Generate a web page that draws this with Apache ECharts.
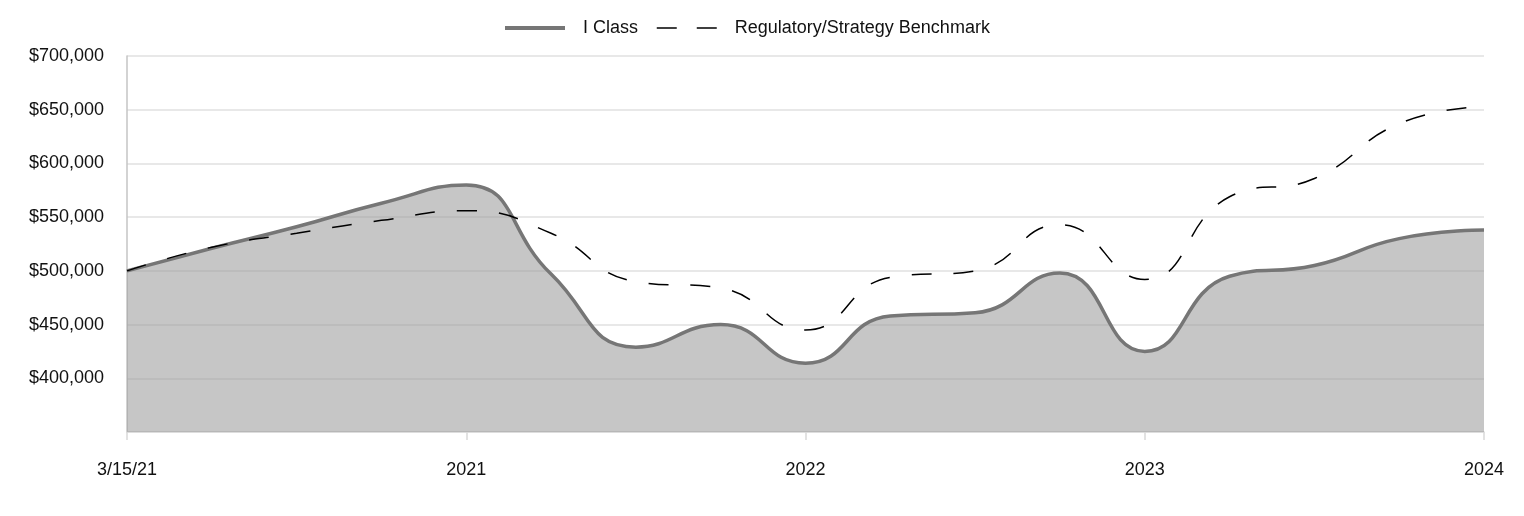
<!DOCTYPE html>
<html>
<head>
<meta charset="utf-8">
<script src="https://cdn.jsdelivr.net/npm/echarts@6/dist/echarts.min.js"></script>
<style>
html,body{margin:0;padding:0;background:#fff;}
#chart{width:1524px;height:516px;}
</style>
</head>
<body>
<div id="chart"></div>
<script>
const categories = ['3/15/21','','','','2021','','','','2022','','','','2023','','','','2024'];
const iClass = [500000, 521000, 541000, 563000, 580000, 497000, 429000, 450000, 414000, 458000, 461000, 498000, 425000, 495000, 505000, 530000, 538000];
const benchmark = [500000, 522000, 535000, 547000, 556000, 535000, 490000, 484000, 445000, 494000, 500000, 543000, 492000, 569000, 586000, 637000, 653000];
const seriesNames = ['I Class', 'Regulatory/Strategy Benchmark'];

const FONT = '"Liberation Sans", Arial, sans-serif';
const chart = echarts.init(document.getElementById('chart'), null, {renderer: 'canvas'});
chart.setOption({
  animation: false,
  backgroundColor: '#ffffff',
  textStyle: {fontFamily: FONT},
  legend: {
    top: 14,
    left: 498,
    itemWidth: 60,
    itemHeight: 20,
    itemGap: 18,
    itemStyle: {opacity: 0},
    textStyle: {fontFamily: FONT, fontSize: 18, color: '#111', padding: [0, 0, 0, 13]},
    data: [
      {name: seriesNames[0], lineStyle: {width: 4, color: '#767676'}},
      {name: seriesNames[1], lineStyle: {width: 1.5, color: '#000', type: [20, 20]}}
    ]
  },
  grid: {left: 127, right: 40, top: 56, bottom: 84, containLabel: false},
  xAxis: {
    type: 'category',
    data: categories,
    boundaryGap: false,
    axisLine: {show: true, lineStyle: {color: '#d9d9d9', width: 1.5}},
    axisTick: {show: true, interval: 3, length: 8, lineStyle: {color: '#d9d9d9', width: 1.5}},
    axisLabel: {interval: 3, margin: 29, fontFamily: FONT, fontSize: 18, color: '#111'},
    splitLine: {show: false}
  },
  yAxis: {
    type: 'value',
    min: 350000,
    max: 700000,
    interval: 50000,
    axisLine: {show: true, lineStyle: {color: '#c4c4c4', width: 1.5}},
    axisTick: {show: false},
    axisLabel: {
      margin: 23,
      fontFamily: FONT, fontSize: 18, color: '#111',
      formatter: function (v) { return v <= 350000 ? '' : '$' + v.toLocaleString('en-US'); }
    },
    splitLine: {show: true, lineStyle: {color: '#e0e0e0', width: 1.5}}
  },
  series: [
    {
      name: seriesNames[0],
      type: 'line',
      data: iClass,
      smooth: 0.5,
      symbol: 'none',
      lineStyle: {color: '#767676', width: 3.5},
      itemStyle: {color: '#767676'},
      areaStyle: {color: 'rgb(151,151,151)', opacity: 0.55, origin: 'start'},
      z: 2
    },
    {
      name: seriesNames[1],
      type: 'line',
      data: benchmark,
      smooth: 0.5,
      symbol: 'none',
      lineStyle: {color: '#000', width: 1.5, type: [20, 22]},
      itemStyle: {color: '#000'},
      z: 3
    }
  ]
});
</script>
</body>
</html>
